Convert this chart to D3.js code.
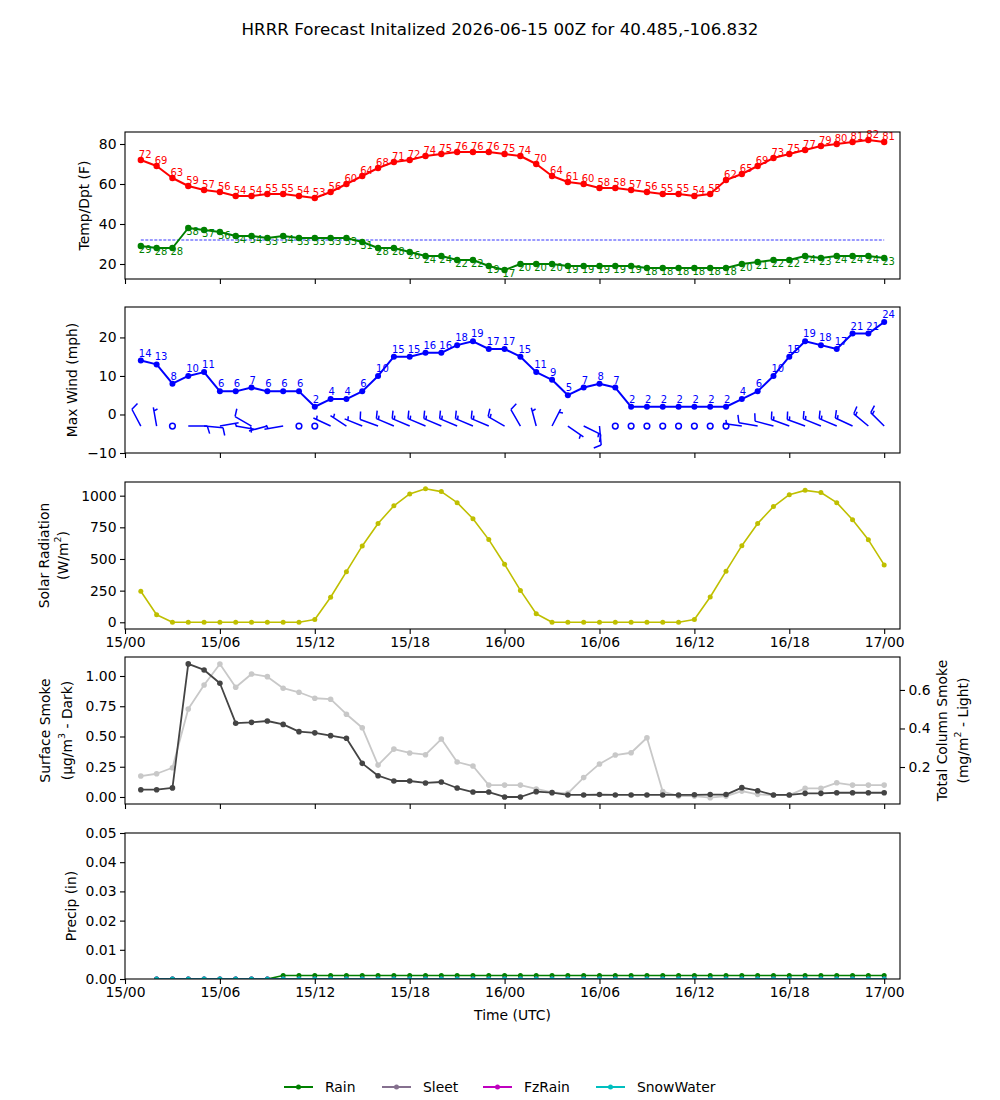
<!DOCTYPE html>
<head>
    <meta charset="utf-8">
    <script src="https://d3js.org/d3.v7.min.js"></script>
    <style>
        body {
            margin: 0;
            background: white;
        }

        text {
            font-family: "DejaVu Sans", sans-serif;
            fill: black;
        }

        .axis text {
            font-size: 13.9px;
        }

        .axis line {
            stroke: black;
            stroke-width: 1.1px;
        }

        .axis .domain {
            display: none;
        }

        .frame {
            fill: none;
            stroke: black;
            stroke-width: 1.1px;
        }

        .label {
            font-size: 13.9px;
        }

        .pt-label {
            font-size: 10px;
        }
    </style>
</head>

<body>
<script>
    // forecast hours 1..48 after 2026-06-15 00Z
    var hours = d3.range(1, 49);

    var xTickHours = [0, 6, 12, 18, 24, 30, 36, 42, 48];
    var xTickLabels = ["15/00", "15/06", "15/12", "15/18", "16/00", "16/06", "16/12", "16/18", "17/00"];

    var tempF = [72, 69, 63, 59, 57, 56, 54, 54, 55, 55, 54, 53, 56, 60, 64, 68, 71, 72, 74, 75, 76, 76, 76, 75,
                 74, 70, 64, 61, 60, 58, 58, 57, 56, 55, 55, 54, 55, 62, 65, 69, 73, 75, 77, 79, 80, 81, 82, 81];
    var dewF = [29, 28, 28, 38, 37, 36, 34, 34, 33, 34, 33, 33, 33, 33, 31, 28, 28, 26, 24, 24, 22, 22, 19, 17,
                20, 20, 20, 19, 19, 19, 19, 19, 18, 18, 18, 18, 18, 18, 20, 21, 22, 22, 24, 23, 24, 24, 24, 23];
    var freezeF = 32;

    var maxWind = [14, 13, 8, 10, 11, 6, 6, 7, 6, 6, 6, 2, 4, 4, 6, 10, 15, 15, 16, 16, 18, 19, 17, 17,
                   15, 11, 9, 5, 7, 8, 7, 2, 2, 2, 2, 2, 2, 2, 4, 6, 10, 15, 19, 18, 17, 21, 21, 24];
    // barbs: direction wind blows from (deg) and speed (kt)
    var windDir = [332, 350, 0, 90, 95, 80, 100, 300, 255, 260, 0, 0, 295, 303, 292, 290, 293, 293, 293, 293, 293, 293, 293, 300,
                   330, 345, 27, 125, 116, 175, 0, 0, 0, 0, 0, 0, 0, 0, 278, 280, 285, 290, 290, 292, 293, 295, 310, 315];
    var windKt = [10, 5, 0, 10, 10, 5, 5, 10, 5, 5, 0, 0, 5, 5, 5, 10, 15, 15, 15, 15, 15, 15, 15, 15,
                  10, 5, 5, 5, 15, 10, 0, 0, 0, 0, 0, 0, 0, 0, 5, 10, 10, 15, 15, 15, 15, 15, 15, 15];

    var solar = [245, 60, 0, 0, 0, 0, 0, 0, 0, 0, 0, 22, 198, 400, 603, 780, 920, 1014, 1055, 1032, 945, 818, 653, 458,
                 252, 68, 0, 0, 0, 0, 0, 0, 0, 0, 0, 22, 200, 404, 605, 780, 914, 1008, 1042, 1025, 945, 810, 651, 453];

    var smokeSfc = [0.06, 0.06, 0.075, 1.10, 1.05, 0.94, 0.61, 0.617, 0.628, 0.60, 0.54, 0.53, 0.507, 0.485, 0.278, 0.176,
                    0.132, 0.132, 0.116, 0.124, 0.074, 0.041, 0.041, 0.0, 0.0, 0.044, 0.036, 0.017, 0.017, 0.02, 0.017, 0.017,
                    0.017, 0.017, 0.017, 0.018, 0.02, 0.02, 0.077, 0.052, 0.017, 0.017, 0.03, 0.03, 0.035, 0.035, 0.035, 0.035];
    var smokeCol = [0.153, 0.165, 0.196, 0.501, 0.626, 0.735, 0.614, 0.683, 0.669, 0.609, 0.588, 0.557, 0.552, 0.474, 0.404, 0.21,
                    0.293, 0.273, 0.264, 0.345, 0.226, 0.205, 0.106, 0.106, 0.106, 0.086, 0.068, 0.063, 0.145, 0.216, 0.262, 0.274,
                    0.352, 0.072, 0.049, 0.049, 0.041, 0.049, 0.075, 0.058, 0.054, 0.054, 0.089, 0.089, 0.118, 0.106, 0.106, 0.106];

    // precip (in), first hour missing
    var rain = [null, 0, 0, 0, 0, 0, 0, 0, 0].concat(d3.range(39).map(function() { return 0.0012; }));
    var sleet = [null].concat(d3.range(47).map(function() { return 0; }));
    var fzRain = sleet.slice();
    var snowWater = sleet.slice();

    var precipSeries = [
        {name: "Rain", values: rain, color: "#008000"},
        {name: "Sleet", values: sleet, color: "#85708f"},
        {name: "FzRain", values: fzRain, color: "#bf00bf"},
        {name: "SnowWater", values: snowWater, color: "#00bfbf"}
    ];

    var width = 1000, height = 1100;
    var left = 125, right = 900;

    var svg = d3.select("body").append("svg")
        .attr("width", width)
        .attr("height", height);

    svg.append("rect").attr("width", width).attr("height", height).attr("fill", "white");

    var x = d3.scaleLinear().domain([0, 49]).range([left, right]);

    var panels = [
        {id: "temp", top: 132, bottom: 279, domain: [12.5, 86], ticks: [20, 40, 60, 80], fmt: d3.format("d"), xlabels: false},
        {id: "wind", top: 307, bottom: 453, domain: [-10, 27.9], ticks: [-10, 0, 10, 20], fmt: d3.format("d"), xlabels: false},
        {id: "solar", top: 482, bottom: 629, domain: [-53, 1108], ticks: [0, 250, 500, 750, 1000], fmt: d3.format("d"), xlabels: true},
        {id: "smoke", top: 657, bottom: 804, domain: [-0.058, 1.157], ticks: [0, 0.25, 0.5, 0.75, 1], fmt: d3.format(".2f"), xlabels: false},
        {id: "precip", top: 833, bottom: 979, domain: [0, 0.05], ticks: [0, 0.01, 0.02, 0.03, 0.04, 0.05], fmt: d3.format(".2f"), xlabels: true}
    ];

    panels.forEach(function(p) {
        p.y = d3.scaleLinear().domain(p.domain).range([p.bottom, p.top]);
        p.g = svg.append("g").attr("class", "panel-" + p.id);

        svg.append("clipPath").attr("id", "clip-" + p.id)
            .append("rect")
            .attr("x", left).attr("y", p.top)
            .attr("width", right - left).attr("height", p.bottom - p.top);

        p.plot = p.g.append("g").attr("clip-path", "url(#clip-" + p.id + ")");

        p.g.append("g")
            .attr("class", "axis")
            .attr("transform", "translate(" + left + ",0)")
            .call(d3.axisLeft(p.y).tickValues(p.ticks).tickFormat(function(d) {
                return p.fmt(d).replace("-", "\u2212");
            }).tickSize(5).tickPadding(3.5));

        p.g.append("g")
            .attr("class", "axis")
            .attr("transform", "translate(0," + p.bottom + ")")
            .call(d3.axisBottom(x).tickValues(xTickHours)
                .tickFormat(function(d, i) { return p.xlabels ? xTickLabels[i] : ""; })
                .tickSize(5).tickPadding(3.5));
    });

    function series(p, values, yScale, color, r, lw) {
        var pts = hours.map(function(h, i) { return {h: h, v: values[i]}; })
            .filter(function(d) { return d.v != null; });
        var line = d3.line()
            .x(function(d) { return x(d.h); })
            .y(function(d) { return yScale(d.v); });
        var g = p.plot.append("g");
        g.append("path")
            .datum(pts)
            .attr("d", line)
            .attr("fill", "none")
            .attr("stroke", color)
            .attr("stroke-width", lw)
            .attr("stroke-linejoin", "round");
        g.selectAll("circle")
            .data(pts)
            .enter().append("circle")
            .attr("cx", function(d) { return x(d.h); })
            .attr("cy", function(d) { return yScale(d.v); })
            .attr("r", r)
            .attr("fill", color);
        return pts;
    }

    function pointLabels(p, pts, yScale, color, dx, dy) {
        p.g.append("g").selectAll("text")
            .data(pts)
            .enter().append("text")
            .attr("class", "pt-label")
            .attr("x", function(d) { return x(d.h) + dx; })
            .attr("y", function(d) { return yScale(d.v) + dy; })
            .attr("fill", color)
            .style("fill", color)
            .text(function(d) { return Math.round(d.v); });
    }

    // temperature / dewpoint
    var pT = panels[0];
    p = pT;
    p.plot.append("line")
        .attr("x1", x(1)).attr("x2", x(48))
        .attr("y1", p.y(freezeF)).attr("y2", p.y(freezeF))
        .attr("stroke", "blue")
        .attr("stroke-width", 0.8)
        .attr("stroke-dasharray", "3,1.5");
    var tPts = series(pT, tempF, pT.y, "#ff0000", 3.2, 2);
    var dPts = series(pT, dewF, pT.y, "#008000", 3.2, 2);
    pointLabels(pT, tPts, pT.y, "#ff0000", -2, -2);
    pointLabels(pT, dPts, pT.y, "#008000", -2, 7);

    // wind
    var pW = panels[1];
    var wPts = series(pW, maxWind, pW.y, "#0000ff", 3, 2);
    pointLabels(pW, wPts, pW.y, "#0000ff", -2, -4);

    var L = 19, bHeight = 0.4 * L, bWidth = 0.25 * L, bSpacing = 0.125 * L;

    function barbPath(cx, cy, dir, spd) {
        var t = dir * Math.PI / 180;
        var dx = Math.sin(t), dy = -Math.cos(t);
        var px = -dy, py = dx;
        function pt(a, b) {
            return [cx + dx * a + px * b, cy + dy * a + py * b];
        }
        var s = Math.round(spd / 5) * 5;
        var full = Math.floor(s / 10), half = (s % 10) >= 5;
        var path = d3.path();
        var p0 = pt(0, 0), p1 = pt(L, 0);
        path.moveTo(p0[0], p0[1]);
        path.lineTo(p1[0], p1[1]);
        var off = L;
        for (var i = 0; i < full; i++) {
            var a = pt(off, 0), b = pt(off + bWidth / 2, bHeight);
            path.moveTo(a[0], a[1]);
            path.lineTo(b[0], b[1]);
            off -= bSpacing;
        }
        if (half) {
            if (off === L) off -= 1.5 * bSpacing;
            var c = pt(off, 0), e = pt(off + bWidth / 4, bHeight / 2);
            path.moveTo(c[0], c[1]);
            path.lineTo(e[0], e[1]);
        }
        return path.toString();
    }

    var barbY = pW.y(-3);
    var barbs = pW.g.append("g").attr("class", "barbs");
    hours.forEach(function(h, i) {
        var s = Math.round(windKt[i] / 5) * 5;
        if (s < 5) {
            barbs.append("circle")
                .attr("cx", x(h)).attr("cy", barbY)
                .attr("r", 0.15 * L)
                .attr("fill", "white")
                .attr("stroke", "#0000ff")
                .attr("stroke-width", 1.5);
        } else {
            barbs.append("path")
                .attr("d", barbPath(x(h), barbY, windDir[i], windKt[i]))
                .attr("fill", "none")
                .attr("stroke", "#0000ff")
                .attr("stroke-width", 1.5)
                .attr("stroke-linecap", "butt");
        }
    });

    // solar
    var pS = panels[2];
    series(pS, solar, pS.y, "#bfbf00", 2.5, 1.6);

    // smoke, light series on a twin right axis
    var pK = panels[3];
    var yCol = d3.scaleLinear().domain([0.008, 0.771]).range([pK.bottom, pK.top]);
    pK.g.append("g")
        .attr("class", "axis")
        .attr("transform", "translate(" + right + ",0)")
        .call(d3.axisRight(yCol).tickValues([0.2, 0.4, 0.6]).tickFormat(d3.format(".1f"))
            .tickSize(5).tickPadding(3.5));
    series(pK, smokeCol, yCol, "#c8c8c8", 2.8, 1.8);
    series(pK, smokeSfc, pK.y, "#444444", 2.8, 1.8);

    // precip
    var pP = panels[4];
    precipSeries.forEach(function(s) {
        series(pP, s.values, pP.y, s.color, 2.5, 1.6);
    });

    // frames over the data
    panels.forEach(function(p) {
        p.g.append("rect")
            .attr("class", "frame")
            .attr("x", left).attr("y", p.top)
            .attr("width", right - left).attr("height", p.bottom - p.top);
    });

    // y labels
    function yLabel(cx, cy, parts) {
        var t = svg.append("text")
            .attr("class", "label")
            .attr("text-anchor", "middle")
            .attr("dominant-baseline", "central")
            .attr("transform", "translate(" + cx + "," + cy + ") rotate(-90)");
        parts.forEach(function(s) {
            var ts = t.append("tspan").text(s.t);
            if (s.sup) ts.attr("baseline-shift", "super").style("font-size", "9.5px");
        });
    }

    function mid(p) { return (p.top + p.bottom) / 2; }

    yLabel(84, mid(pT), [{t: "Temp/Dpt (F)"}]);
    yLabel(72, mid(pW), [{t: "Max Wind (mph)"}]);
    yLabel(44, mid(pS), [{t: "Solar Radiation"}]);
    yLabel(63, mid(pS), [{t: "(W/m"}, {t: "2", sup: true}, {t: ")"}]);
    yLabel(45, mid(pK), [{t: "Surface Smoke"}]);
    yLabel(67, mid(pK), [{t: "(\u03bcg/m"}, {t: "3", sup: true}, {t: " - Dark)"}]);
    yLabel(942, mid(pK), [{t: "Total Column Smoke"}]);
    yLabel(963, mid(pK), [{t: "(mg/m"}, {t: "2", sup: true}, {t: " - Light)"}]);
    yLabel(71, mid(pP), [{t: "Precip (in)"}]);

    svg.append("text")
        .attr("class", "label")
        .attr("x", (left + right) / 2)
        .attr("y", 1020)
        .attr("text-anchor", "middle")
        .text("Time (UTC)");

    svg.append("text")
        .attr("x", 500)
        .attr("y", 35)
        .attr("text-anchor", "middle")
        .style("font-size", "16.7px")
        .text("HRRR Forecast Initalized 2026-06-15 00Z for 40.485,-106.832");

    // legend
    var legendX = [284, 382, 483, 596];
    var legend = svg.append("g").attr("class", "legend");
    precipSeries.forEach(function(s, i) {
        var lx = legendX[i], ly = 1087;
        legend.append("line")
            .attr("x1", lx).attr("x2", lx + 29)
            .attr("y1", ly).attr("y2", ly)
            .attr("stroke", s.color)
            .attr("stroke-width", 2);
        legend.append("circle")
            .attr("cx", lx + 14.5).attr("cy", ly)
            .attr("r", 2.5)
            .attr("fill", s.color);
        legend.append("text")
            .attr("class", "label")
            .attr("x", lx + 41)
            .attr("y", ly + 5)
            .text(s.name);
    });
</script>
</body>
</html>
